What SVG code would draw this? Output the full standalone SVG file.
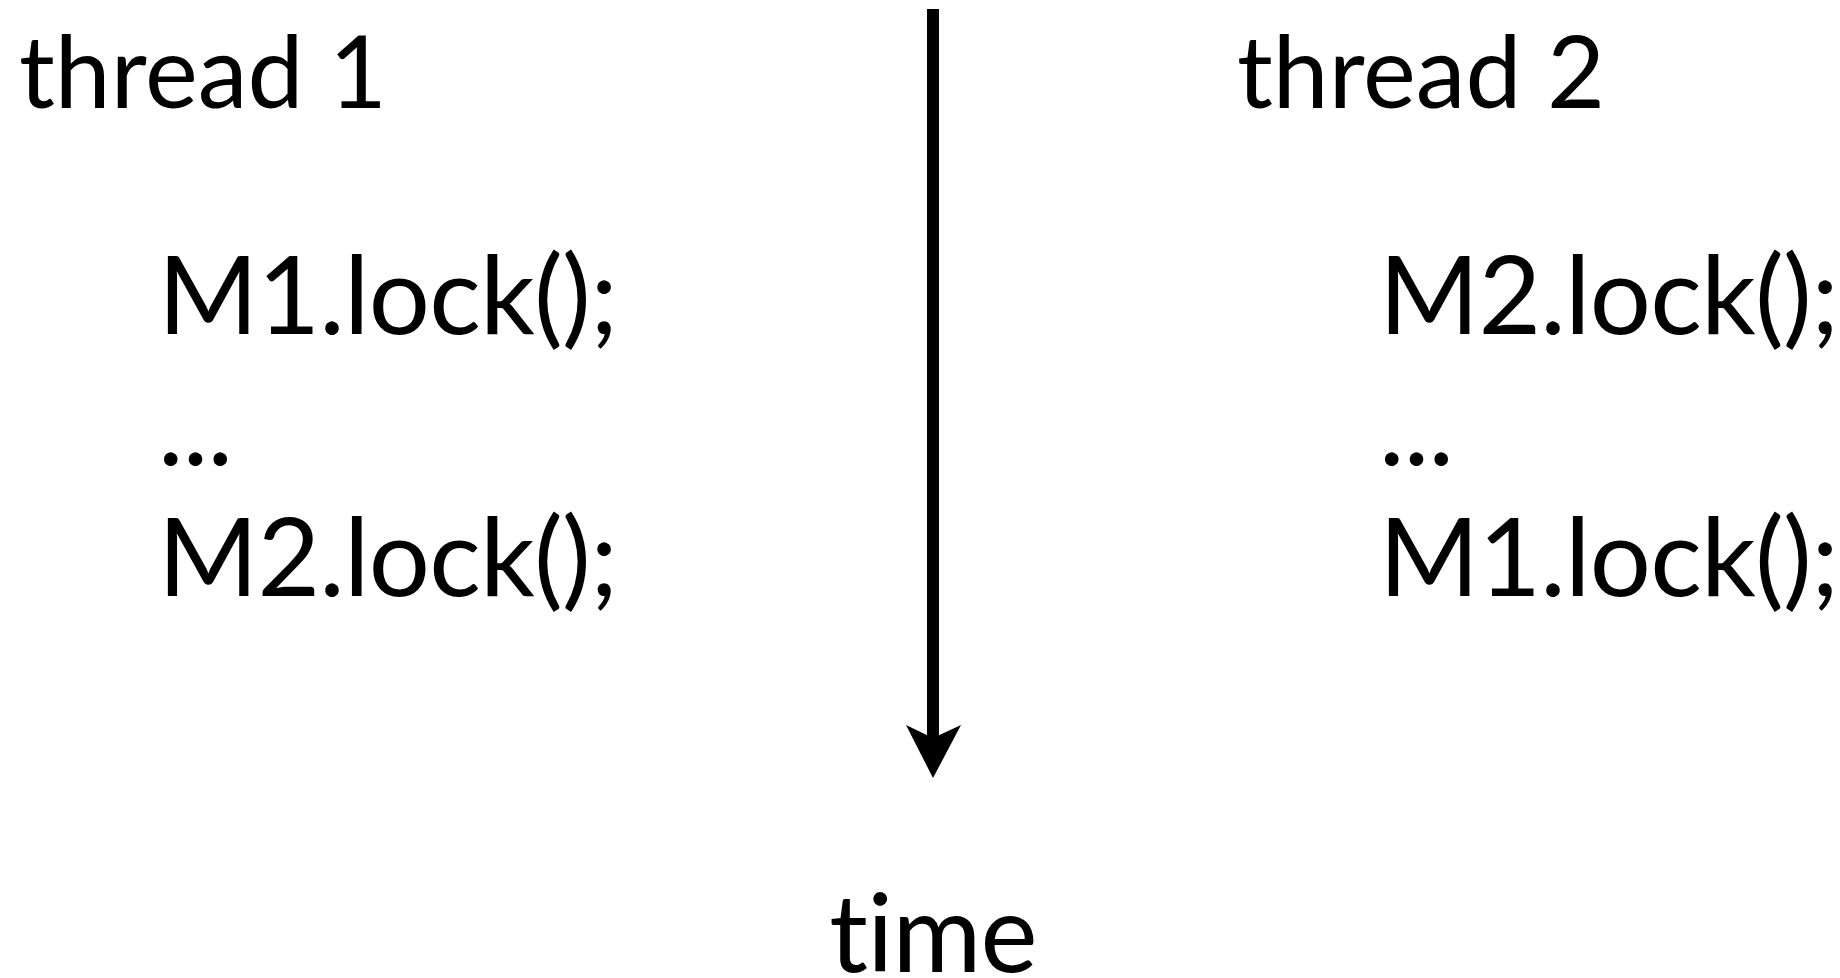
<svg xmlns="http://www.w3.org/2000/svg" width="1840" height="978" viewBox="0 0 1840 978">
  <style>
    text { font-family: Lato, "Open Sans", "Liberation Sans", sans-serif; fill: #000; font-variant-ligatures: none; }
    .head { font-size: 100px; }
    .code { font-size: 108px; letter-spacing: -0.8px; }
    .axis { stroke: #000; stroke-width: 12; fill: none; }
  </style>
  <rect width="1840" height="978" fill="#fff"/>

  <!-- time axis: shaft plus notched arrowhead -->
  <g id="connectors">
    <line class="axis" x1="933" y1="9" x2="933" y2="740"/>
    <path d="M906 725 L933 738 L961 725 L933 778 Z" fill="#000"/>
  </g>

  <g id="thread1">
    <text class="head" x="19" y="108">thread 1</text>
    <text class="code" x="158" y="334">M1.lock();</text>
    <text class="code" x="158" y="465">...</text>
    <text class="code" x="158" y="596">M2.lock();</text>
  </g>

  <g id="thread2">
    <text class="head" x="1237" y="108">thread 2</text>
    <text class="code" x="1379" y="334">M2.lock();</text>
    <text class="code" x="1379" y="465">...</text>
    <text class="code" x="1379" y="596">M1.lock();</text>
  </g>

  <g id="time">
    <text class="code" x="933" y="972" text-anchor="middle">time</text>
  </g>
</svg>
